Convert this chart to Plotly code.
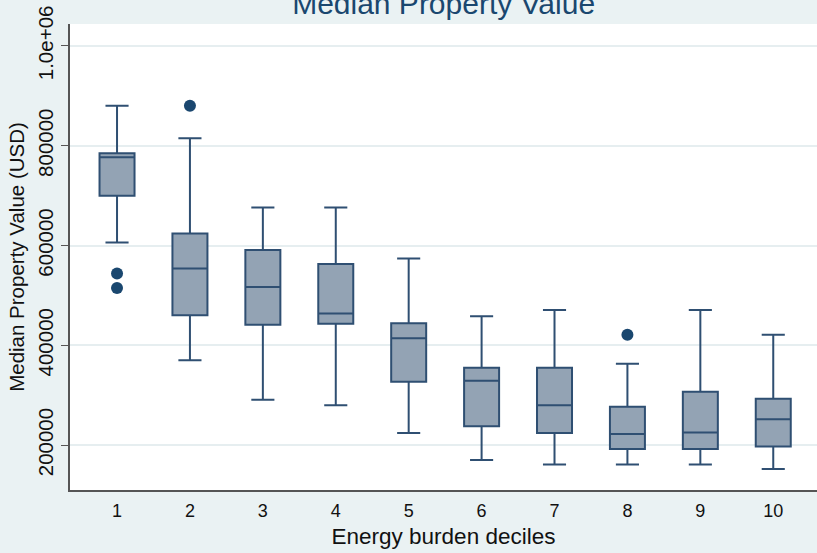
import plotly.graph_objects as go

# Box statistics by energy burden decile (USD)
deciles = [1, 2, 3, 4, 5, 6, 7, 8, 9, 10]
lower_whisker = [606000, 370000, 291000, 280000, 224000, 170000, 161000, 161000, 161000, 152000]
q1 = [700000, 460000, 441000, 443000, 327000, 238000, 224000, 192000, 192000, 197000]
median = [777000, 554000, 517000, 464000, 414000, 329000, 280000, 222000, 225000, 252000]
q3 = [785000, 624000, 591000, 563000, 444000, 355000, 355000, 277000, 307000, 293000]
upper_whisker = [880000, 815000, 676000, 676000, 574000, 458000, 471000, 363000, 471000, 421000]

# Outlying observations
outlier_x = [1, 1, 2, 8]
outlier_y = [544000, 515000, 880000, 421000]

# Y axis ticks
ytick_vals = [200000, 400000, 600000, 800000, 1000000]
ytick_text = ["200000", "400000", "600000", "800000", "1.0e+06"]

NAVY = "#1a476f"
LINE = "#2f4f72"
FILL = "#93a3b4"
BG = "#eaf2f3"
FONT = "Liberation Sans, Arial, sans-serif"

fig = go.Figure()
fig.add_trace(go.Box(
    x=deciles,
    q1=q1, median=median, q3=q3,
    lowerfence=lower_whisker, upperfence=upper_whisker,
    width=0.48,
    whiskerwidth=0.66,
    fillcolor=FILL,
    line=dict(color=LINE, width=2),
    boxpoints=False,
    showlegend=False,
    hoverinfo="skip",
))
fig.add_trace(go.Scatter(
    x=outlier_x, y=outlier_y, mode="markers",
    marker=dict(color=NAVY, size=12),
    showlegend=False,
))

fig.update_layout(
    width=817, height=553,
    paper_bgcolor=BG, plot_bgcolor="white",
    margin=dict(l=70, r=0, t=24, b=63),
    font=dict(family=FONT, color="#111111", size=18),
    title=dict(text="Median Property Value", x=0.543, xanchor="center",
               y=0.994, yanchor="middle",
               font=dict(family=FONT, size=30, color=NAVY)),
    xaxis=dict(
        range=[0.355, 10.6], tickmode="array", tickvals=deciles,
        ticktext=[str(d) for d in deciles],
        tickfont=dict(size=18), ticklabelstandoff=4,
        showgrid=False, zeroline=False, showline=True,
        linecolor="#555555", linewidth=1.5, ticks="",
        title=dict(text="Energy burden deciles", font=dict(size=22.5), standoff=8),
    ),
    yaxis=dict(
        range=[110000, 1044000], tickmode="array", tickvals=ytick_vals,
        ticktext=ytick_text, tickangle=-90, tickfont=dict(size=20.5),
        showgrid=True, gridcolor="#e6eef0", gridwidth=1.5, zeroline=False,
        showline=True, linecolor="#555555", linewidth=1.5,
        ticks="outside", ticklen=7, tickcolor="#555555",
        title=dict(text="Median Property Value (USD)", font=dict(size=20.5), standoff=4),
    ),
)

fig.write_html("out.html")
